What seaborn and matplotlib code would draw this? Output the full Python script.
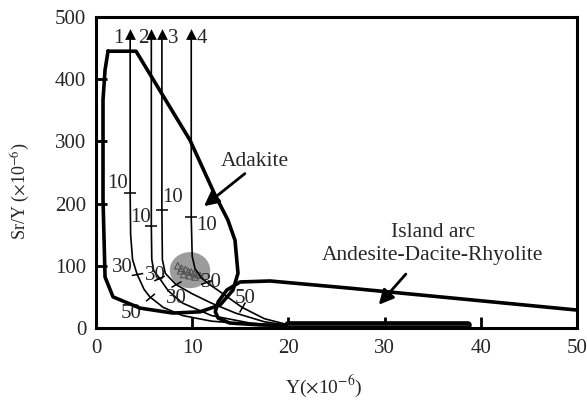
import matplotlib
matplotlib.use("Agg")
import matplotlib.pyplot as plt
import seaborn as sns
import numpy as np
from matplotlib.patches import Ellipse
from matplotlib.markers import MarkerStyle
from matplotlib.transforms import Affine2D

sns.set_style("ticks")
plt.rcParams['font.family'] = ['Liberation Serif', 'DejaVu Serif']
plt.rcParams['mathtext.fontset'] = 'stix'

# ---- data ----
x_ticks = [0, 10, 20, 30, 40, 50]
y_ticks = [0, 100, 200, 300, 400, 500]

adakite_x = [1.25, 4.16, 9.77, 12.37, 13.7, 14.45, 14.76, 14.24, 12.9, 10.8, 8.0, 4.57, 1.77, 0.94, 0.73, 0.73, 0.94, 1.25]
adakite_y = [445, 445, 302, 214, 174, 141, 88, 61, 37, 26, 24, 32, 50, 82, 206, 367, 415, 445]

arc_x = [49.9, 26.4, 18.1, 14.97, 13.6, 12.7, 12.4, 12.7, 13.9, 17.0, 20.2]
arc_y = [29, 64, 75.6, 74, 61, 42, 26, 16, 8, 5, 3.5]
bar_x = [20.0, 38.7]
bar_y = [5.0, 5.0]

c1_x = [3.55, 3.55, 3.6, 3.8, 4.26, 5.0, 5.6, 7.0, 9.0, 12.0, 16.0, 20.5]
c1_y = [470, 217, 150, 110, 87, 62, 50, 33, 20, 11, 6, 3]
c2_x = [5.75, 5.75, 5.8, 6.0, 6.6, 7.5, 9.0, 12.0, 16.0, 20.5]
c2_y = [470, 164, 110, 92, 80, 60, 40, 20, 8, 3]
c3_x = [6.85, 6.85, 6.9, 7.2, 8.3, 10.0, 12.0, 14.5, 17.5, 20.5]
c3_y = [470, 190, 110, 88, 70, 55, 40, 24, 10, 3]
c4_x = [9.9, 9.9, 10.0, 10.3, 11.0, 11.8, 13.2, 15.2, 17.5, 20.5]
c4_y = [470, 178, 115, 95, 80, 70, 55, 33, 15, 3]
curves = [(c1_x, c1_y), (c2_x, c2_y), (c3_x, c3_y), (c4_x, c4_y)]

curve_names = ["1", "2", "3", "4"]
name_x = [2.3, 4.9, 8.0, 11.0]
name_y = [465, 465, 465, 465]

# melting-degree tick marks on the curves (x, y, angle)
mt_x = [3.55, 5.75, 6.85, 9.9, 4.26, 6.6, 8.3, 11.4, 5.6, 15.2]
mt_y = [217, 164, 190, 178, 87, 80, 70, 74, 50, 33]
mt_ang = [0, 0, 0, 0, 10, 25, 30, 20, 40, 60]
mt_lab = ["10", "10", "10", "10", "30", "30", "30", "30", "50", "50"]
lab_x = [2.2, 4.6, 8.0, 11.5, 2.7, 6.2, 8.4, 12.0, 3.7, 15.5]
lab_y = [233, 178, 210, 165, 98, 85, 48, 73, 24, 48]

ell_cx, ell_cy, ell_w, ell_h = 9.77, 93, 4.2, 58
samp_x = [8.5, 8.9, 9.3, 9.6, 9.9, 10.2, 10.5, 10.8, 9.1, 9.7, 10.3, 8.8]
samp_y = [100, 96, 94, 91, 90, 88, 86, 85, 86, 84, 82, 92]

# ---- figure ----
fig = plt.figure(figsize=(5.87, 4.03), dpi=100)
ax = fig.add_axes([96/587, 1-328/403, (577-96)/587, (328-17)/403])

ax.add_patch(Ellipse((ell_cx, ell_cy), ell_w, ell_h, facecolor='#9c9c9c', edgecolor='none', zorder=1))
sns.scatterplot(x=samp_x, y=samp_y, marker='^', s=22, facecolor='none', edgecolor='#555555', linewidth=0.8, ax=ax, zorder=2)

sns.lineplot(x=adakite_x, y=adakite_y, sort=False, estimator=None, color='black', lw=2.6, ax=ax, zorder=4)
sns.lineplot(x=arc_x, y=arc_y, sort=False, estimator=None, color='black', lw=2.6, ax=ax, zorder=4)
sns.lineplot(x=bar_x, y=bar_y, sort=False, estimator=None, color='black', lw=5.5, ax=ax, zorder=4)
ax.plot(bar_x, bar_y, color='#444444', lw=0.5, zorder=5)

for cx, cy in curves:
    sns.lineplot(x=cx, y=cy, sort=False, estimator=None, color='black', lw=1.2, ax=ax, zorder=3)
    ax.scatter([cx[0]], [cy[0] + 2], marker='^', s=60, color='black', zorder=5, linewidths=0)

for t, x, y in zip(curve_names, name_x, name_y):
    ax.text(x, y, t, ha='center', va='center', fontsize=15)

for x, y, a in zip(mt_x, mt_y, mt_ang):
    m = MarkerStyle('_', transform=Affine2D().rotate_deg(a))
    ax.scatter([x], [y], marker=m, s=70, color='black', linewidths=1.1, zorder=5)
for t, x, y in zip(mt_lab, lab_x, lab_y):
    ax.text(x, y, t, ha='center', va='center', fontsize=15)

ax.text(16.5, 268, 'Adakite', ha='center', va='center', fontsize=15.5)
ax.annotate('', xy=(11.0, 193), xytext=(15.7, 251),
            arrowprops=dict(arrowstyle='-|>', color='black', lw=2, mutation_scale=22))
ax.text(35.0, 153, 'Island arc', ha='center', va='center', fontsize=15.5)
ax.text(35.0, 117, 'Andesite-Dacite-Rhyolite', ha='center', va='center', fontsize=15.5)
ax.annotate('', xy=(29.2, 34), xytext=(32.4, 90),
            arrowprops=dict(arrowstyle='-|>', color='black', lw=2, mutation_scale=22))

ax.set_xlim(0, 50)
ax.set_ylim(0, 500)
ax.set_xticks(x_ticks)
ax.set_yticks(y_ticks)
ax.set_xticklabels([str(v) for v in x_ticks], fontsize=15)
ax.set_yticklabels([str(v) for v in y_ticks], fontsize=15)
ax.tick_params(direction='in', length=8, width=2, pad=8, color='black')
ax.tick_params(axis='y', pad=7)
for s in ax.spines.values():
    s.set_linewidth(2.2)
    s.set_color('black')
ax.set_xlabel(r'Y($\times$10$^{-6}$)', fontsize=14)
ax.set_ylabel(r'Sr/Y ($\times$10$^{-6}$)', fontsize=13)
ax.xaxis.set_label_coords(0.473, -0.145)
ax.yaxis.set_label_coords(-0.133, 0.44)

fig.savefig('out.png', dpi=100)
